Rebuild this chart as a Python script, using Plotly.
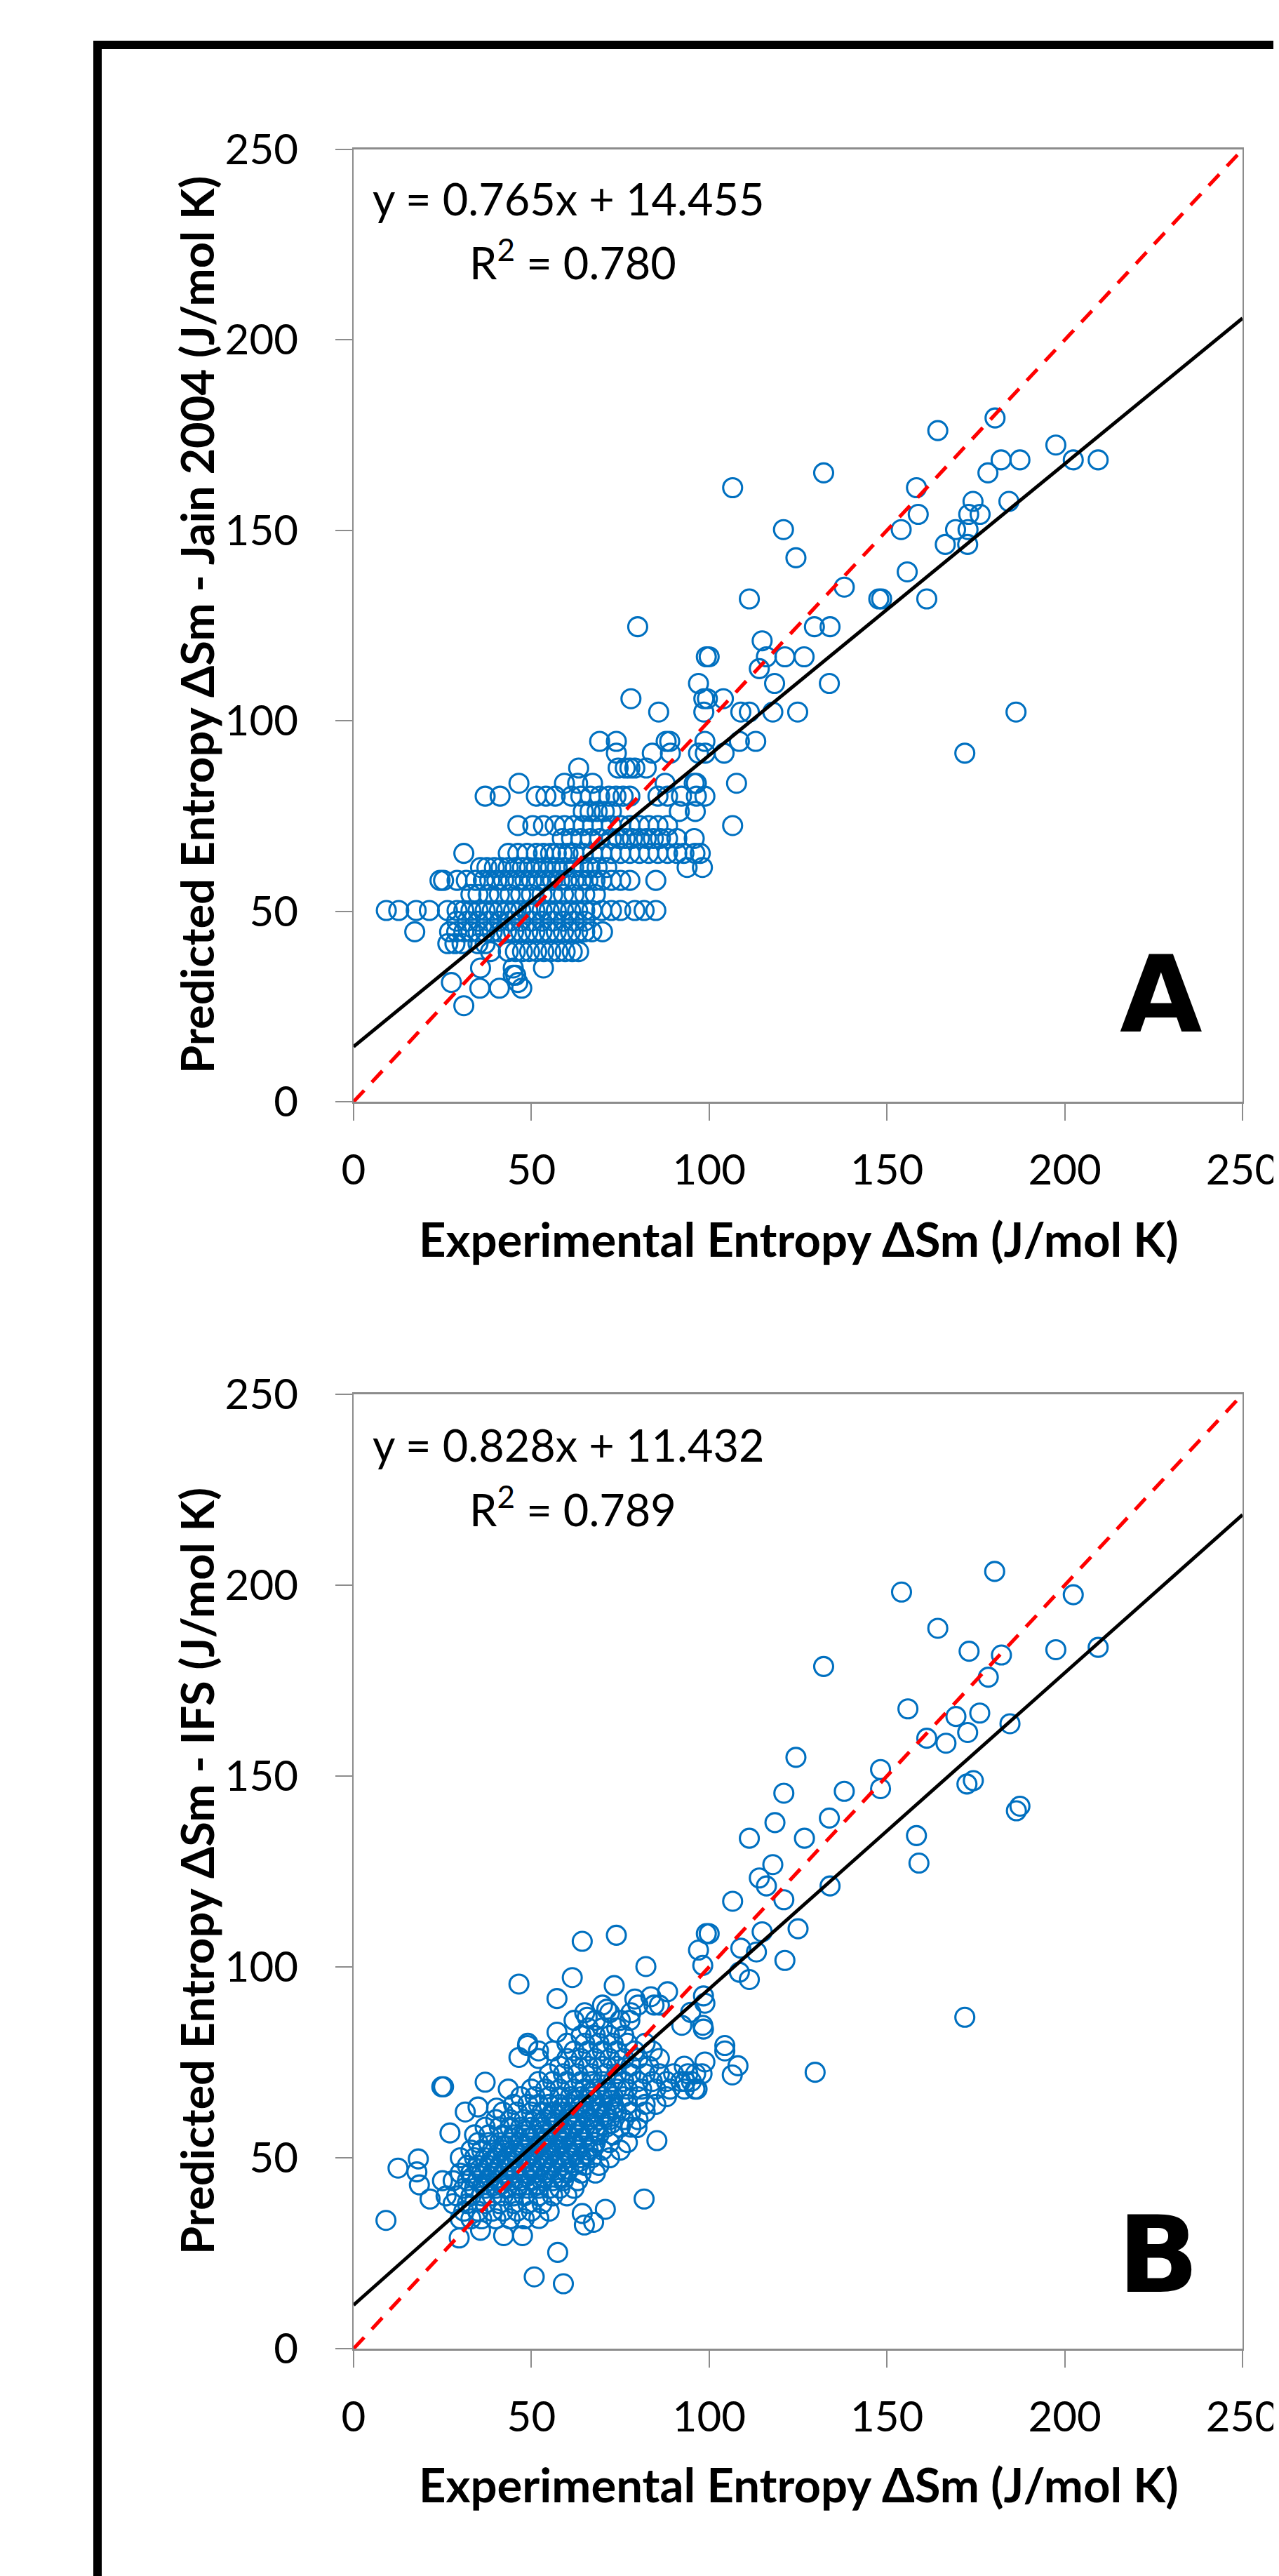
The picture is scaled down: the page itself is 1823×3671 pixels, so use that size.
import plotly.graph_objects as go

W, H = 1823, 3671

# ---------------- Panel A: Jain 2004 (values read row by row) ----------------
jain_rows_y = [50.2, 47.4, 44.6, 41.5, 39.4, 35.1, 33.2, 31.3, 29.8, 25.2,
               54.4, 58.1, 61.5, 65.2, 69.1, 72.5, 76.2, 80.2, 83.6, 87.6,
               91.5, 94.6, 102.3, 105.8, 109.8, 113.7, 116.8, 121.0, 124.7, 132.0,
               135.1, 139.1, 142.8, 146.3, 150.2, 154.2, 157.6, 161.2, 165.1, 168.5,
               172.4, 176.2, 179.5]
jain_rows_x = [
    [9.2, 12.7, 17.6, 21.3, 26.4, 29.1, 31, 33, 35, 37, 39, 41, 43, 45, 47, 49, 51, 53, 55, 57, 59, 61, 63, 65, 67, 69.8, 72.5, 75.1, 79.1, 81.7, 85.0],
    [29, 32, 35, 38, 41, 44, 47, 50, 53, 56, 59, 62, 65],
    [17.2, 27, 29, 31, 33, 35, 37, 39, 41, 43, 45, 47, 49, 51, 53, 55, 57, 59, 61, 63, 65, 67, 70],
    [26.5, 28.5, 30.5, 35, 37],
    [38.5, 43.5, 45.5, 47.5, 49.5, 51.5, 53.5, 55.5, 57.5, 59.5, 61.5, 63.3],
    [35.7, 44.9, 53.4],
    [44.9, 45.6],
    [27.5, 46.2],
    [35.5, 41.0, 47.3],
    [31.0],
    [33, 35, 38, 41, 44, 47, 50, 53, 56, 59, 62, 65, 68],
    [24.3, 25.3, 29.1, 31.7, 34.3, 36.5, 38.3, 40.3, 42.2, 44.2, 46.2, 48.2, 50.1, 52.1, 54.1, 56, 58, 60, 62, 64, 65.9, 67.9, 69.8, 72.5, 75.1, 77.7, 85.0],
    [35.7, 37.5, 39.6, 41.5, 43.5, 45.5, 47.5, 49.5, 51.4, 53.4, 55.4, 57.3, 59.3, 61.9, 64.6, 66.5, 68.5, 71.2, 93.8, 98.1],
    [31.0, 43.5, 46.2, 48.8, 51.4, 53.4, 55.4, 57.0, 58.7, 60.3, 62.0, 64.6, 67.2, 69.8, 72.5, 75.1, 77.7, 80.4, 83.0, 85.6, 88.3, 90.9, 92.9, 96.0, 97.5],
    [58.7, 61.3, 63.9, 66.6, 69.2, 72.5, 74.5, 76.4, 78.4, 80.4, 82.3, 84.3, 86.3, 88.3, 90.9, 95.8],
    [46.2, 50.4, 53.4, 56.7, 59.3, 62.0, 64.6, 67.2, 69.8, 72.5, 75.1, 77.7, 80.4, 83.0, 85.6, 88.3, 106.6],
    [64.6, 66.5, 68.5, 70.5, 72.5, 91.6, 96.1],
    [37.0, 41.2, 51.4, 54.1, 56.7, 61.3, 63.9, 66.6, 69.2, 71.8, 73.8, 75.8, 77.7, 85.6, 88.3, 92.2, 96.4, 98.8],
    [46.5, 59.3, 63.0, 67.2, 87.6, 95.8, 96.4, 107.7],
    [63.3, 74.4, 76.4, 77.7, 79.1, 82.3],
    [73.9, 84.0, 89.1, 97.0, 98.9, 104.2, 171.9],
    [69.2, 73.9, 87.9, 88.9, 98.8, 108.5, 113.1],
    [85.8, 98.5, 108.9, 111.3, 117.9, 124.9, 186.3],
    [78.0, 98.5, 99.5, 104.0],
    [97.0, 118.4, 133.8],
    [114.1],
    [99.2, 100.0, 116.1, 121.3, 126.7],
    [114.9],
    [79.9, 129.6, 134.0],
    [111.3, 147.7, 148.5, 161.2],
    [138.0],
    [155.7],
    [124.4],
    [166.4, 172.7],
    [120.9, 154.0, 169.3, 172.8],
    [158.8, 173.0, 176.2],
    [174.2, 184.3],
    [106.6, 158.3],
    [132.2, 178.4],
    [182.1, 187.4, 202.4, 209.4],
    [197.5],
    [164.3],
    [180.4],
]

# ---------------- Panel B: IFS ----------------
ifs_blob_rows_y = [34, 36, 38, 40, 42, 44, 46, 48, 50, 52, 54, 56, 58, 60, 62, 64,
                   66, 68, 70, 72, 74, 76, 78, 80, 82, 84, 86, 88, 90,
                   43, 45, 47, 49, 51, 53, 55, 57, 59, 61, 63, 65, 67]
ifs_blob_rows_x = [
    [30, 33, 36, 40, 44, 48],
    [31, 35, 39, 42, 46, 50, 55],
    [28, 32, 37, 41, 45, 49, 53],
    [26, 29, 33, 36, 39, 42, 45, 48, 52, 56, 60],
    [31, 34, 37, 40, 43, 46, 49, 52, 55, 58, 62],
    [25, 28, 32, 35, 38, 41, 44, 47, 50, 53, 56, 59, 63],
    [30, 33, 36, 39, 42, 45, 48, 51, 54, 57, 60, 64, 68],
    [32, 35, 38, 41, 44, 47, 50, 53, 56, 59, 62, 65, 69],
    [30, 34, 37, 40, 43, 46, 49, 52, 55, 58, 61, 64, 67, 72],
    [33, 36, 39, 42, 45, 48, 51, 54, 57, 60, 63, 66, 70, 75],
    [35, 38, 41, 44, 47, 50, 53, 56, 59, 62, 65, 68, 72, 77],
    [34, 38, 42, 45, 48, 51, 54, 57, 60, 63, 66, 69, 73],
    [37, 41, 44, 47, 50, 53, 56, 59, 62, 65, 68, 71, 75, 78],
    [40, 44, 48, 51, 54, 57, 60, 63, 66, 69, 72, 76, 80],
    [42, 46, 50, 53, 56, 59, 62, 65, 68, 71, 74, 78, 82],
    [45, 49, 52, 55, 58, 61, 64, 67, 70, 73, 77, 82, 85],
    [47, 51, 55, 58, 61, 64, 67, 70, 73, 76, 80, 88],
    [43.5, 50, 54, 58, 62, 65, 68, 71, 74, 77, 81, 85, 89, 93, 96],
    [52, 56, 60, 64, 67, 70, 73, 76, 80, 84, 88, 92, 95],
    [55, 59, 63, 67, 71, 74, 78, 82, 86, 90, 94, 98],
    [58, 62, 66, 70, 74, 78, 83, 93],
    [52, 60, 64, 68, 72, 76, 80, 86],
    [56, 62, 66, 70, 74, 79, 84],
    [49, 60, 65, 69, 73, 77, 82],
    [64, 68, 72, 76],
    [66, 70, 74],
    [62, 68, 75, 77.7],
    [65, 72, 78],
    [70, 80, 84.5, 86],
    [36.5, 41.5, 46.5, 51.5],
    [33.5, 38.5, 43.5, 48.5, 53.5, 58.5],
    [35.5, 40.5, 45.5, 50.5, 55.5, 60.5],
    [38.5, 43.5, 48.5, 53.5, 58.5, 63.5],
    [40.5, 45.5, 50.5, 55.5, 60.5, 65.5],
    [42.5, 47.5, 52.5, 57.5, 62.5, 67.5],
    [44.5, 49.5, 54.5, 59.5, 64.5],
    [48.5, 53.5, 58.5, 63.5, 68.5],
    [52.5, 57.5, 62.5, 67.5, 72.5],
    [55.5, 60.5, 65.5, 70.5],
    [58.5, 63.5, 68.5, 73.5],
    [62.5, 67.5, 72.5],
    [66.5, 71.5],
]
ifs_x = [180.3, 154.1, 202.4, 164.3, 132.2, 173.1, 182.2, 197.5, 209.4, 178.5,
         155.9, 169.4, 176.1, 184.6, 172.7, 161.2, 166.6, 124.4, 148.2, 148.2,
         138.0, 121.0, 172.5, 174.3, 186.4, 187.4, 118.5, 133.8, 111.3, 126.8,
         158.3, 159.0, 117.9, 114.1, 116.1, 121.0, 134.0, 106.6, 125.0, 114.9,
         99.2, 100.0, 97.0, 108.9, 113.3, 121.3, 98.2, 108.5, 111.3, 171.9,
         129.8, 98.4, 98.8, 94.8, 92.3, 98.2, 98.4, 104.4, 104.4, 108.1,
         106.5, 98.8, 96.2, 93.3, 96.6,
         9.1, 12.5, 18.2, 17.8, 18.5, 21.5, 24.8, 25.3, 37.0, 46.5,
         57.2, 61.5, 64.3, 73.9, 82.2, 73.3, 57.2, 46.5, 65.7, 81.7,
         57.4, 50.8, 59.0, 64.3, 64.9, 67.5, 70.8, 85.3, 79.7, 29.7,
         35.7, 42.2, 47.5, 52.1, 27.1, 31.4, 35.0, 71.2, 79.1, 83.6,
         88.3, 48.9, 52.0, 40.2]
ifs_y = [203.6, 198.2, 197.5, 188.7, 178.7, 182.7, 181.7, 183.1, 183.7, 175.9,
         167.6, 165.6, 166.5, 163.7, 161.4, 159.9, 158.6, 154.9, 151.7, 146.7,
         146.0, 145.5, 147.9, 148.8, 140.9, 142.1, 137.8, 139.0, 133.7, 133.7,
         134.4, 127.2, 126.8, 123.3, 121.2, 117.6, 121.2, 117.2, 110.0, 109.2,
         108.7, 108.7, 104.4, 104.9, 103.9, 101.7, 100.4, 98.6, 96.7, 86.8,
         72.4, 92.4, 90.5, 88.1, 84.7, 84.7, 83.7, 79.4, 78.0, 74.1,
         71.7, 75.1, 72.0, 70.0, 68.0,
         33.6, 47.3, 49.7, 46.3, 42.9, 39.2, 68.6, 68.6, 69.8, 95.5,
         91.7, 97.2, 106.7, 108.3, 100.1, 95.1, 82.9, 76.3, 86.8, 39.2,
         25.2, 18.8, 17.0, 35.4, 32.4, 33.1, 36.5, 54.5, 57.9, 29.0,
         31.0, 29.6, 29.6, 34.1, 56.5, 62.0, 63.3, 88.9, 91.6, 92.2,
         93.5, 79.4, 78.0, 63.0]

# trendline equations and labels as printed on the chart
fit_a = (0.765, 14.455)
fit_b = (0.828, 11.432)
eq_a = ["y = 0.765x + 14.455", "R<sup>2</sup> = 0.780"]
eq_b = ["y = 0.828x + 11.432", "R<sup>2</sup> = 0.789"]
tick_vals = [0, 50, 100, 150, 200, 250]
line_x = [0, 250]
x_title = "Experimental Entropy ΔSm (J/mol K)"
y_title_a = "Predicted Entropy ΔSm - Jain 2004 (J/mol K)"
y_title_b = "Predicted Entropy ΔSm - IFS (J/mol K)"


def flatten(rows_y, rows_x):
    xs, ys = [], []
    for yv, row in zip(rows_y, rows_x):
        for xv in row:
            xs.append(xv)
            ys.append(yv)
    return xs, ys


ax_x, ax_y = flatten(jain_rows_y, jain_rows_x)
bx_blob, by_blob = flatten(ifs_blob_rows_y, ifs_blob_rows_x)
bx = bx_blob + ifs_x
by = by_blob + ifs_y


def px(x):
    return x / W


def py(y):
    return 1 - y / H


BLUE = "#0070C0"
GREY = "#8c8c8c"
FONT = "Lato, 'Open Sans', sans-serif"

fig = go.Figure()
for xs, ys, fit, xa, ya in [(ax_x, ax_y, fit_a, "x", "y"), (bx, by, fit_b, "x2", "y2")]:
    fig.add_trace(go.Scatter(x=xs, y=ys, mode="markers", xaxis=xa, yaxis=ya,
                             marker=dict(symbol="circle-open", size=27, color=BLUE,
                                         line=dict(width=3.1, color=BLUE)),
                             showlegend=False, hoverinfo="x+y"))
    fig.add_trace(go.Scatter(x=line_x, y=[fit[0] * v + fit[1] for v in line_x], mode="lines",
                             xaxis=xa, yaxis=ya, line=dict(color="black", width=5),
                             showlegend=False, hoverinfo="skip"))
    fig.add_trace(go.Scatter(x=line_x, y=line_x, mode="lines", xaxis=xa, yaxis=ya,
                             line=dict(color="#ff0000", width=5.2, dash="22px,16px"),
                             showlegend=False, hoverinfo="skip"))

x_dom = [px(496), px(1763)]
axis_common = dict(range=[0, 250], tickvals=tick_vals, showgrid=False, zeroline=False,
                   automargin=False,
                   showline=True, linecolor=GREY, mirror=True, ticks="outside",
                   ticklen=24, tickwidth=1.5, tickcolor=GREY,
                   tickfont=dict(family=FONT, size=60, color="black"))
fig.update_layout(
    template="none",
    width=W, height=H, margin=dict(l=0, r=0, t=0, b=0, pad=0, autoexpand=False),
    paper_bgcolor="white", plot_bgcolor="white",
    xaxis=dict(domain=x_dom, anchor="y", linewidth=3, ticklabelstandoff=19, **axis_common),
    yaxis=dict(domain=[py(1562), py(205)], anchor="x", linewidth=2, ticklabelstandoff=41, **axis_common),
    xaxis2=dict(domain=x_dom, anchor="y2", linewidth=3, ticklabelstandoff=19, **axis_common),
    yaxis2=dict(domain=[py(3339), py(1979)], anchor="x2", linewidth=2, ticklabelstandoff=41, **axis_common),
)

ann = []
for (eqs, ey1, ey2, ytitle, ycen, xty, letter, lx, ly) in [
        (eq_a, 274, 362, y_title_a, 883, 1757, "A", 1647, 1410),
        (eq_b, 2050, 2138, y_title_b, 2659, 3532, "B", 1643, 3205)]:
    ann.append(dict(x=px(521), y=py(ey1), text=eqs[0], xanchor="left", yanchor="middle",
                    font=dict(family=FONT, size=63, color="black")))
    ann.append(dict(x=px(659), y=py(ey2), text=eqs[1], xanchor="left", yanchor="middle",
                    font=dict(family=FONT, size=63, color="black")))
    ann.append(dict(x=px(272), y=py(ycen), text="<b>" + ytitle + "</b>", textangle=-90,
                    xanchor="center", yanchor="middle",
                    font=dict(family=FONT, size=65, color="black")))
    ann.append(dict(x=px(1130), y=py(xty), text="<b>" + x_title + "</b>",
                    xanchor="center", yanchor="middle",
                    font=dict(family=FONT, size=67, color="black")))
    ann.append(dict(x=px(lx), y=py(ly), text="<b>" + letter + "</b>",
                    xanchor="center", yanchor="middle",
                    font=dict(family="DejaVu Sans", size=152, color="black")))
for a in ann:
    a.update(xref="paper", yref="paper", showarrow=False)
fig.update_layout(annotations=ann)

fig.add_shape(type="rect", xref="paper", yref="paper",
              x0=px(131), y0=py(56), x1=px(1900), y1=py(3750),
              line=dict(color="black", width=12), fillcolor="rgba(0,0,0,0)")

fig.write_html("out.html")
